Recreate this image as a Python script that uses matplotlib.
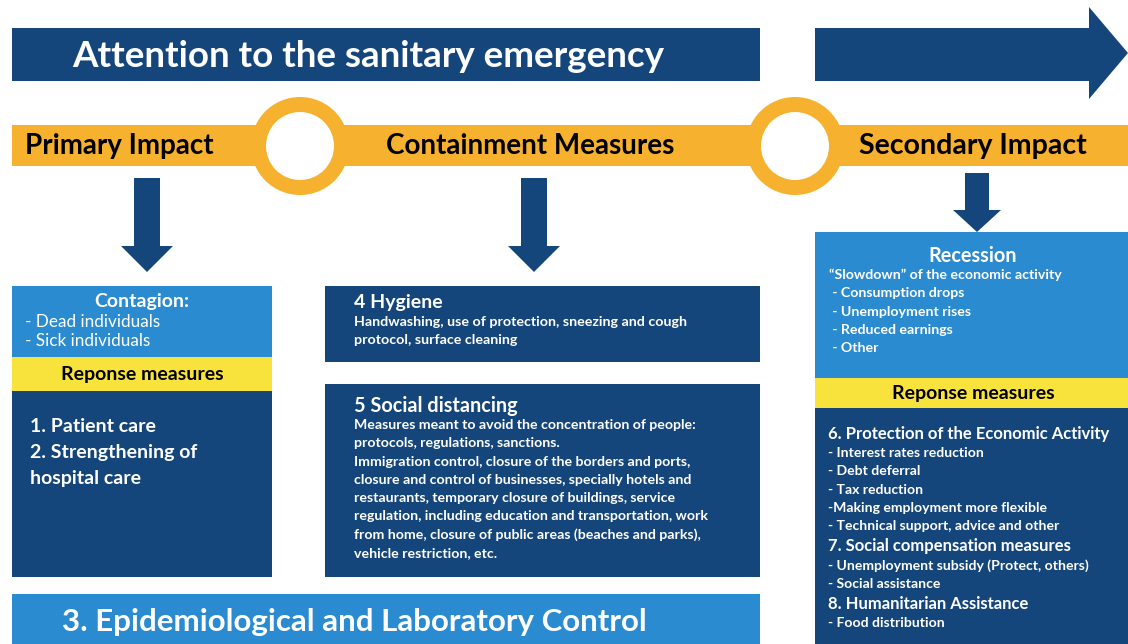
"""Diagram: sanitary emergency response stages (primary / containment / secondary)."""

import matplotlib

matplotlib.use("Agg")
import matplotlib.pyplot as plt
from matplotlib.patches import Circle, Polygon, Rectangle

plt.rcParams["font.family"] = ["Lato", "DejaVu Sans"]

NAVY = "#15467b"
LIGHT = "#2a8bd1"
YELLOW = "#f8e33c"
ORANGE = "#f6b12e"

# ---------------------------------------------------------------------------
# Text content
# ---------------------------------------------------------------------------
banner_title = "Attention to the sanitary emergency"
stage_labels = ["Primary Impact", "Containment Measures", "Secondary Impact"]
bottom_title = "3. Epidemiological and Laboratory Control"

contagion_title = "Contagion:"
contagion_items = ["- Dead individuals", "- Sick individuals"]
response_label = "Reponse measures"
primary_measures = ["1. Patient care", "2. Strengthening of", "hospital care"]

hygiene_title = "4 Hygiene"
hygiene_body = [
    "Handwashing, use of protection, sneezing and cough",
    "protocol, surface cleaning",
]
distancing_title = "5 Social distancing"
distancing_body = [
    "Measures meant to avoid the concentration of people:",
    "protocols, regulations, sanctions.",
    "Immigration control, closure of the borders and ports,",
    "closure and control of businesses, specially hotels and",
    "restaurants, temporary closure of buildings, service",
    "regulation, including education and transportation, work",
    "from home, closure of public areas (beaches and parks),",
    "vehicle restriction, etc.",
]

recession_title = "Recession"
recession_items = [
    "\u201cSlowdown\u201d of the economic activity",
    " - Consumption drops",
    " - Unemployment rises",
    " - Reduced earnings",
    " - Other",
]
# (text, is_heading)
secondary_measures = [
    ("6. Protection of the Economic Activity", True),
    ("- Interest rates reduction", False),
    ("- Debt deferral", False),
    ("- Tax reduction", False),
    ("-Making employment more flexible", False),
    ("- Technical support, advice and other", False),
    ("7. Social compensation measures", True),
    ("- Unemployment subsidy (Protect, others)", False),
    ("- Social assistance", False),
    ("8. Humanitarian Assistance", True),
    ("- Food distribution", False),
]


def rect(ax, x0, y0, x1, y1, color):
    ax.add_patch(Rectangle((x0, y0), x1 - x0, y1 - y0, facecolor=color, edgecolor="none"))


def down_arrow(ax, cx, y0, y_head, y_tip, shaft_w=26, head_w=52):
    pts = [
        (cx - shaft_w / 2, y0), (cx + shaft_w / 2, y0),
        (cx + shaft_w / 2, y_head), (cx + head_w / 2, y_head),
        (cx, y_tip), (cx - head_w / 2, y_head),
        (cx - shaft_w / 2, y_head),
    ]
    ax.add_patch(Polygon(pts, closed=True, facecolor=NAVY, edgecolor="none"))


fig = plt.figure(figsize=(11.28, 6.44), dpi=100)
ax = fig.add_axes([0, 0, 1, 1])
ax.set_xlim(0, 1128)
ax.set_ylim(644, 0)
ax.axis("off")

# Top banner and arrow
rect(ax, 12, 28, 760, 81, NAVY)
ax.text(72, 56, banner_title, color="white", fontsize=26.5, fontweight="bold", va="center")
ax.add_patch(Polygon(
    [(815, 28), (1089, 28), (1089, 7), (1128, 53), (1089, 99), (1089, 81), (815, 81)],
    closed=True, facecolor=NAVY, edgecolor="none"))

# Orange band with rings
rect(ax, 12, 125, 1128, 166, ORANGE)
for cx in (300, 795):
    ax.add_patch(Circle((cx, 146), 49, facecolor=ORANGE, edgecolor="none"))
    ax.add_patch(Circle((cx, 146), 34, facecolor="white", edgecolor="none"))
ax.text(25, 146, stage_labels[0], fontsize=20, fontweight="bold", va="center", ha="left")
ax.text(530, 146, stage_labels[1], fontsize=20, fontweight="bold", va="center", ha="center")
ax.text(973, 146, stage_labels[2], fontsize=20.5, fontweight="bold", va="center", ha="center")

# Down arrows
down_arrow(ax, 147, 178, 246, 272)
down_arrow(ax, 534, 178, 246, 272)
down_arrow(ax, 977, 173, 210, 232, shaft_w=24, head_w=48)

# Left column
rect(ax, 12, 286, 272, 357, LIGHT)
rect(ax, 12, 357, 272, 391, YELLOW)
rect(ax, 12, 391, 272, 577, NAVY)
ax.text(142, 301, contagion_title, color="white", fontsize=14, fontweight="bold", ha="center", va="center")
for i, line in enumerate(contagion_items):
    ax.text(25, 322 + i * 19, line, color="white", fontsize=12.3, va="center")
ax.text(142, 374, response_label, color="black", fontsize=14, fontweight="bold", ha="center", va="center")
for i, line in enumerate(primary_measures):
    ax.text(30, 426 + i * 26, line, color="white", fontsize=14, fontweight="bold", va="center")

# Middle column
rect(ax, 325, 286, 760, 362, NAVY)
ax.text(354, 302, hygiene_title, color="white", fontsize=14, fontweight="bold", va="center")
for i, line in enumerate(hygiene_body):
    ax.text(354, 322 + i * 18, line, color="white", fontsize=10.3, fontweight="bold", va="center")

rect(ax, 325, 384, 760, 577, NAVY)
ax.text(354, 406, distancing_title, color="white", fontsize=14.3, fontweight="bold", va="center")
for i, line in enumerate(distancing_body):
    ax.text(354, 425 + i * 18.3, line, color="white", fontsize=10.2, fontweight="bold", va="center")

# Bottom bar
rect(ax, 12, 594, 760, 644, LIGHT)
ax.text(62, 622, bottom_title, color="white", fontsize=22.5, fontweight="bold", va="center")

# Right column
rect(ax, 815, 232, 1128, 378, LIGHT)
rect(ax, 815, 378, 1128, 408, YELLOW)
rect(ax, 815, 408, 1128, 644, NAVY)
ax.text(973, 256, recession_title, color="white", fontsize=14.3, fontweight="bold", ha="center", va="center")
for i, line in enumerate(recession_items):
    ax.text(829, 275 + i * 18.3, line, color="white", fontsize=10.2, fontweight="bold", va="center")
ax.text(973, 393, response_label, color="black", fontsize=14, fontweight="bold", ha="center", va="center")
y = 434
for text, heading in secondary_measures:
    if heading and y > 434:
        y += 2
    ax.text(828, y, text, color="white", fontsize=12 if heading else 10.1,
            fontweight="bold", va="center")
    y += 19 if heading else 18.3

fig.savefig("out.png", dpi=100)
plt.close(fig)
